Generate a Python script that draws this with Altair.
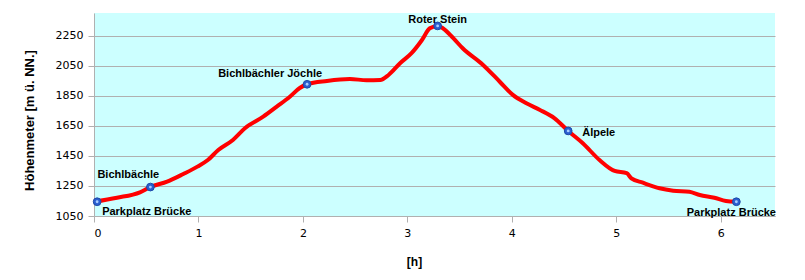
import altair as alt
import pandas as pd

# Elevation profile (hours, metres)
hours = [0.0, 0.22, 0.44, 0.545, 0.70, 0.855, 0.99, 1.09, 1.19, 1.33, 1.445, 1.62, 1.75, 1.875, 1.97,
         2.04, 2.23, 2.45, 2.61, 2.74, 2.82, 2.93, 3.04, 3.14, 3.215, 3.29, 3.34, 3.44, 3.53, 3.725,
         3.885, 4.01, 4.14, 4.27, 4.41, 4.54, 4.68, 4.84, 4.985, 5.10, 5.145, 5.255, 5.415, 5.545,
         5.70, 5.80, 5.94, 6.05, 6.15]
elev = [1145, 1172, 1208, 1245, 1279, 1330, 1379, 1423, 1490, 1557, 1635, 1712, 1779, 1845, 1903,
        1928, 1950, 1963, 1955, 1957, 1990, 2068, 2135, 2223, 2301, 2317, 2301, 2235, 2168, 2057,
        1945, 1857, 1801, 1757, 1701, 1617, 1535, 1423, 1350, 1335, 1301, 1272, 1235, 1219,
        1212, 1190, 1172, 1150, 1145]

# Waypoints
wp_names = ["Parkplatz Brücke", "Bichlbächle", "Bichlbächler Jöchle", "Roter Stein", "Älpele",
            "Parkplatz Brücke "]
wp_hours = [0.03, 0.54, 2.04, 3.29, 4.54, 6.15]
wp_elev = [1145, 1243, 1928, 2317, 1617, 1145]

y_ticks = [1050, 1250, 1450, 1650, 1850, 2050, 2250]
x_ticks = [0, 1, 2, 3, 4, 5, 6]

profile = pd.DataFrame({"h": hours, "m": elev})
wps = pd.DataFrame({"name": wp_names, "h": wp_hours, "m": wp_elev})

FONT = "DejaVu Sans"
BOLD = "Liberation Sans"

xs = alt.Scale(domain=[0, 6.52], nice=False, zero=False)
ys = alt.Scale(domain=[1050, 2403], nice=False, zero=False)

x_enc = alt.X("h:Q", scale=xs, title="[h]",
              axis=alt.Axis(values=x_ticks, tickCount=20, grid=False, domainColor="#B0B0B0",
                            tickColor="#B0B0B0", tickSize=6, labelFont=FONT, labelFontSize=11,
                            labelColor="#000000", labelPadding=5, labelOverlap=False,
                            titleFont=BOLD, titleFontSize=12, titleFontWeight="bold",
                            titleColor="#000000", titlePadding=18, titleX=320, format="d"))
y_enc = alt.Y("m:Q", scale=ys, title="Höhenmeter [m ü. NN.]",
              axis=alt.Axis(values=y_ticks, tickCount=20, grid=True, gridColor="#B0B0B0",
                            domainColor="#B0B0B0", tickColor="#B0B0B0", tickSize=6, labelFont=FONT,
                            labelFontSize=11, labelColor="#000000", labelPadding=5,
                            labelOverlap=False, titleFont=BOLD, titleFontSize=13,
                            titleFontWeight="bold", titleColor="#000000", titlePadding=19,
                            titleY=107, format="d"))

line = alt.Chart(profile).mark_line(color="#FF0000", strokeWidth=4, interpolate="monotone").encode(
    x=x_enc, y=y_enc)

points = alt.Chart(wps).mark_point(filled=True, shape="circle", size=60, color="#2A5FD0",
                                   stroke="#1E4AA8", strokeWidth=1, opacity=1).encode(
    x=alt.X("h:Q", scale=xs), y=alt.Y("m:Q", scale=ys))
highlight = alt.Chart(wps).mark_point(filled=True, shape="circle", size=8, color="#A8CCFF",
                                      opacity=1, dx=-1, dy=-1).encode(
    x=alt.X("h:Q", scale=xs), y=alt.Y("m:Q", scale=ys))

label_style = {
    "Parkplatz Brücke": dict(dx=5, dy=10, align="left"),
    "Bichlbächle": dict(dx=-53, dy=-12, align="left"),
    "Bichlbächler Jöchle": dict(dx=15, dy=-10, align="right"),
    "Roter Stein": dict(dx=0, dy=-6, align="center"),
    "Älpele": dict(dx=14, dy=2, align="left"),
    "Parkplatz Brücke ": dict(dx=-5, dy=11, align="center"),
}
labels = []
for nm in wp_names:
    st = label_style[nm]
    labels.append(
        alt.Chart(wps).transform_filter(alt.datum.name == nm).mark_text(
            font=BOLD, fontSize=11, fontWeight="bold", color="#000000", baseline="middle", **st
        ).encode(x=alt.X("h:Q", scale=xs), y=alt.Y("m:Q", scale=ys), text="name:N")
    )

chart = alt.layer(line, points, highlight, *labels).properties(
    width=681, height=203,
    autosize=alt.AutoSizeParams(type="none"),
    padding={"left": 94, "top": 13, "right": 30, "bottom": 64},
    background="#FFFFFF",
).configure_view(fill="#CCFFFF", stroke=None)

chart.save("out.html", embed_options={"renderer": "svg", "actions": False})
